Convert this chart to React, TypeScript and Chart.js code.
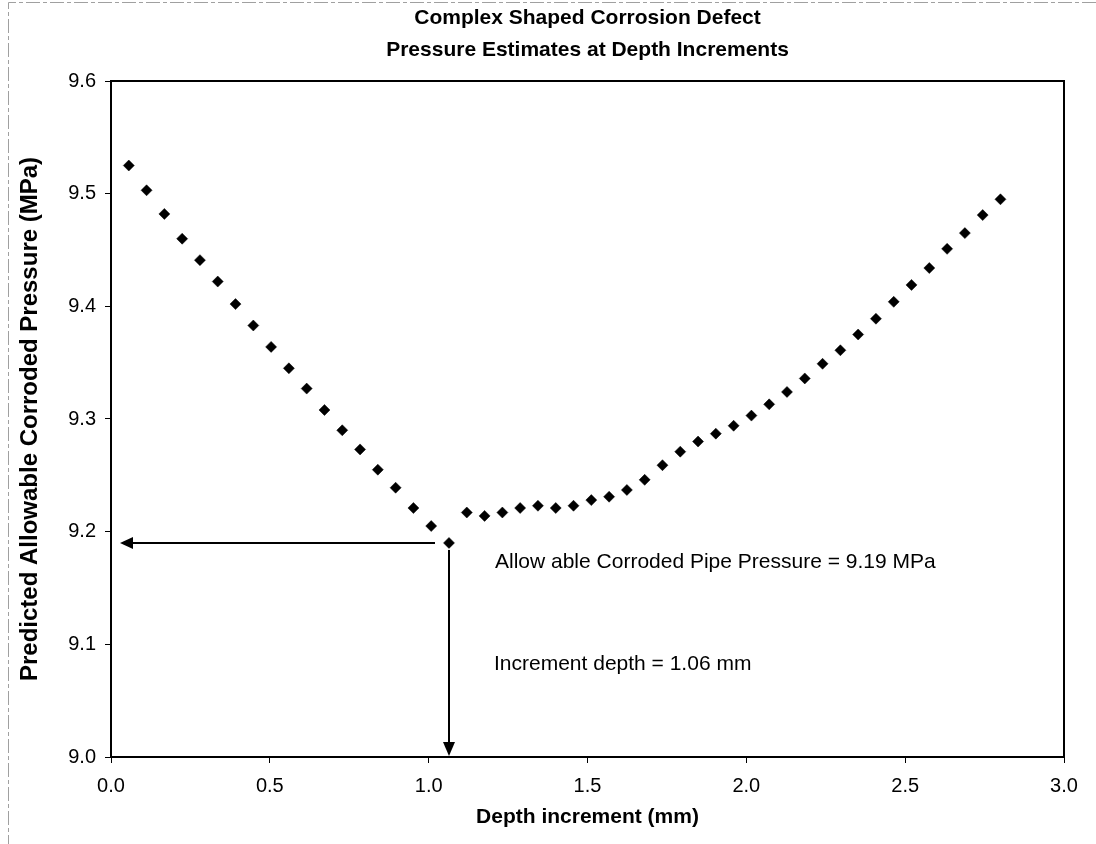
import React, { useEffect, useRef } from 'react';
import { Chart, registerables } from 'chart.js';

Chart.register(...registerables);

const titleLines = ['Complex Shaped Corrosion Defect', 'Pressure Estimates at Depth Increments'];
const xAxisLabel = 'Depth increment (mm)';
const yAxisLabel = 'Predicted Allowable Corroded Pressure (MPa)';
const pressureNote = 'Allow able Corroded Pipe Pressure = 9.19 MPa';
const depthNote = 'Increment depth = 1.06 mm';

const xMin = 0.0;
const xMax = 3.0;
const xStep = 0.5;
const yMin = 9.0;
const yMax = 9.6;
const yStep = 0.1;

const depthIncrements = [
  0.056, 0.112, 0.168, 0.224, 0.28, 0.336, 0.392, 0.448, 0.504, 0.56,
  0.616, 0.672, 0.728, 0.784, 0.84, 0.896, 0.952, 1.008, 1.064, 1.12,
  1.176, 1.232, 1.288, 1.344, 1.4, 1.456, 1.512, 1.568, 1.624, 1.68,
  1.736, 1.792, 1.848, 1.904, 1.96, 2.016, 2.072, 2.128, 2.184, 2.24,
  2.296, 2.352, 2.408, 2.464, 2.52, 2.576, 2.632, 2.688, 2.744, 2.8,
];

const pressures = [
  9.525, 9.503, 9.482, 9.46, 9.441, 9.422, 9.402, 9.383, 9.364, 9.345,
  9.327, 9.308, 9.29, 9.273, 9.255, 9.239, 9.221, 9.205, 9.19, 9.217,
  9.214, 9.217, 9.221, 9.223, 9.221, 9.223, 9.228, 9.231, 9.237, 9.246,
  9.259, 9.271, 9.28, 9.287, 9.294, 9.303, 9.313, 9.324, 9.336, 9.349,
  9.361, 9.375, 9.389, 9.404, 9.419, 9.434, 9.451, 9.465, 9.481, 9.495,
];

const FONT = "'Liberation Sans', Arial, Helvetica, sans-serif";

const framePlugin = {
  id: 'frameAndNotes',
  beforeDraw(chart: any) {
    const { ctx } = chart;
    ctx.save();
    ctx.fillStyle = '#ffffff';
    ctx.fillRect(0, 0, chart.width, chart.height);
    ctx.strokeStyle = '#a0a0a0';
    ctx.lineWidth = 1;
    ctx.setLineDash([14, 3, 4, 3]);
    ctx.beginPath();
    ctx.moveTo(chart.width, 2.5);
    ctx.lineTo(8.5, 2.5);
    ctx.lineTo(8.5, chart.height);
    ctx.stroke();
    ctx.restore();
  },
  afterDraw(chart: any) {
    const { ctx, chartArea } = chart;
    ctx.save();
    ctx.fillStyle = '#000';
    ctx.font = `bold 21px ${FONT}`;
    ctx.textAlign = 'center';
    ctx.textBaseline = 'middle';
    const cx = (chartArea.left + chartArea.right) / 2;
    ctx.fillText(titleLines[0], cx, 18);
    ctx.fillText(titleLines[1], cx, 50);
    ctx.restore();
  },
  afterDatasetsDraw(chart: any) {
    const { ctx, chartArea } = chart;
    const xs = chart.scales.x;
    const ys = chart.scales.y;
    ctx.save();
    ctx.strokeStyle = '#000';
    ctx.lineWidth = 2;
    ctx.strokeRect(chartArea.left, chartArea.top, chartArea.right - chartArea.left, chartArea.bottom - chartArea.top);

    let mi = 0;
    pressures.forEach((p, i) => {
      if (p < pressures[mi]) mi = i;
    });
    const px = xs.getPixelForValue(depthIncrements[mi]);
    const py = ys.getPixelForValue(pressures[mi]);

    ctx.fillStyle = '#000';
    const tipX = chartArea.left + 9;
    ctx.beginPath();
    ctx.moveTo(px - 14, py);
    ctx.lineTo(tipX + 10, py);
    ctx.stroke();
    ctx.beginPath();
    ctx.moveTo(tipX, py);
    ctx.lineTo(tipX + 13, py - 6);
    ctx.lineTo(tipX + 13, py + 6);
    ctx.closePath();
    ctx.fill();

    const tipY = chartArea.bottom - 1;
    ctx.beginPath();
    ctx.moveTo(px, py + 7);
    ctx.lineTo(px, tipY - 10);
    ctx.stroke();
    ctx.beginPath();
    ctx.moveTo(px, tipY);
    ctx.lineTo(px - 6, tipY - 14);
    ctx.lineTo(px + 6, tipY - 14);
    ctx.closePath();
    ctx.fill();

    ctx.font = `21px ${FONT}`;
    ctx.textAlign = 'left';
    ctx.textBaseline = 'middle';
    ctx.fillText(pressureNote, px + 46, py + 19);
    ctx.fillText(depthNote, px + 45, py + 121);
    ctx.restore();
  },
};

export default function App() {
  const canvasRef = useRef<HTMLCanvasElement | null>(null);

  useEffect(() => {
    if (!canvasRef.current) return;
    const points = depthIncrements.map((d, i) => ({ x: d, y: pressures[i] }));
    const chart = new Chart(canvasRef.current, {
      type: 'scatter',
      data: {
        datasets: [
          {
            label: 'Pressure',
            data: points,
            pointStyle: 'rectRot',
            pointRadius: 5.5,
            pointBackgroundColor: '#000',
            pointBorderColor: '#000',
            pointBorderWidth: 0.5,
            showLine: false,
          },
        ],
      },
      options: {
        animation: false,
        responsive: true,
        maintainAspectRatio: false,
        layout: { padding: { left: 0, right: 32, top: 81, bottom: 0 } },
        plugins: {
          legend: { display: false },
          tooltip: { enabled: false },
          title: { display: false },
        },
        scales: {
          x: {
            type: 'linear',
            min: xMin,
            max: xMax,
            border: { display: false },
            grid: { drawOnChartArea: false, drawTicks: true, tickLength: 6, color: '#000', lineWidth: 1 },
            ticks: {
              stepSize: xStep,
              color: '#000',
              padding: 11,
              font: { family: FONT, size: 20 },
              callback: (v: any) => Number(v).toFixed(1),
            },
            title: {
              display: true,
              text: xAxisLabel,
              color: '#000',
              font: { family: FONT, size: 21, weight: 'bold' },
              padding: { top: 0, bottom: 14.4 },
            },
            afterFit: (scale: any) => {
              scale.height = 87;
            },
          },
          y: {
            type: 'linear',
            min: yMin,
            max: yMax,
            border: { display: false },
            grid: { drawOnChartArea: false, drawTicks: true, tickLength: 6, color: '#000', lineWidth: 1 },
            ticks: {
              stepSize: yStep,
              color: '#000',
              padding: 9,
              font: { family: FONT, size: 20 },
              callback: (v: any) => Number(v).toFixed(1),
            },
            title: {
              display: true,
              text: yAxisLabel,
              color: '#000',
              font: { family: FONT, size: 24, weight: 'bold' },
              padding: { top: 15.6, bottom: 0 },
            },
            afterFit: (scale: any) => {
              scale.width = 111;
            },
          },
        },
      },
      plugins: [framePlugin],
    });
    return () => chart.destroy();
  }, []);

  return (
    <div style={{ position: 'fixed', left: 0, top: 0, width: 1096, height: 844, background: '#fff' }}>
      <canvas ref={canvasRef} />
    </div>
  );
}
